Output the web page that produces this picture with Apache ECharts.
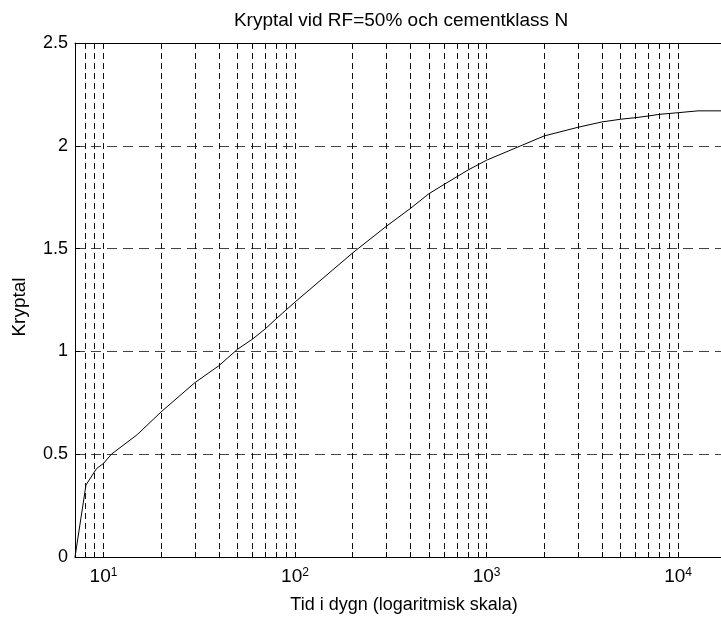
<!DOCTYPE html>
<html>
<head>
<meta charset="utf-8">
<title>Kryptal</title>
<script src="https://cdn.jsdelivr.net/npm/echarts@6/dist/echarts.min.js"></script>
<style>
  html, body { margin: 0; padding: 0; background: #fff; }
  #chart { width: 721px; height: 619px; }
</style>
</head>
<body>
<div id="chart"></div>
<script>
// tid i dygn och kryptal
var days = [7.1, 8.1, 9.2, 10, 11, 15, 20, 30, 40, 50, 60, 70, 80, 100, 200, 300, 400, 500, 600, 800, 1000, 2000, 3000, 4000, 5000, 6000, 7000, 8000, 10000, 12700, 18000];
var creep = [0, 0.35, 0.43, 0.455, 0.5, 0.595, 0.706, 0.848, 0.93, 1.01, 1.06, 1.11, 1.16, 1.24, 1.479, 1.609, 1.695, 1.767, 1.812, 1.882, 1.93, 2.048, 2.09, 2.116, 2.129, 2.137, 2.145, 2.153, 2.161, 2.17, 2.17];

// rutnät och etiketter
var gridDays = [8, 9, 10, 20, 30, 40, 50, 60, 70, 80, 90, 100, 200, 300, 400, 500, 600, 700, 800, 900, 1000, 2000, 3000, 4000, 5000, 6000, 7000, 8000, 9000, 10000];
var majorDays = [10, 100, 1000, 10000];
var yTicks = [0, 0.5, 1, 1.5, 2, 2.5];

var font = 'Liberation Sans, Arial, Helvetica, sans-serif';
var chart = echarts.init(document.getElementById('chart'));

var data = days.map(function (d, i) { return [d, creep[i]]; });

var option = {
  animation: false,
  backgroundColor: '#fff',
  grid: {
    left: 75, top: 43, bottom: 62, right: -6,
    containLabel: false,
    outerBoundsMode: 'none'
  },
  xAxis: [{
    type: 'log',
    position: 'bottom',
    min: 7.1,
    max: 18000,
    axisLine: { show: true, lineStyle: { color: '#000', width: 1 } },
    axisTick: { show: true, inside: true, length: 5, customValues: gridDays, lineStyle: { color: '#000' } },
    axisLabel: {
      customValues: majorDays,
      margin: 10,
      color: '#000',
      fontFamily: font,
      fontSize: 19,
      formatter: function (v) {
        return '{b|10}{sup|' + Math.round(Math.log10(v)) + '}';
      },
      rich: {
        b: { fontSize: 19, fontFamily: font, color: '#000', lineHeight: 19, verticalAlign: 'bottom' },
        sup: { fontSize: 12, fontFamily: font, color: '#000', lineHeight: 12, verticalAlign: 'top', padding: [0, 0, 13, 0] }
      }
    },
    splitLine: { show: true, lineStyle: { color: '#111', width: 1, type: [6, 4] } }
  }, {
    type: 'log',
    position: 'top',
    min: 7.1,
    max: 18000,
    axisLine: { show: true, lineStyle: { color: '#000', width: 1 } },
    axisTick: { show: true, inside: true, length: 5, customValues: gridDays, lineStyle: { color: '#000' } },
    axisLabel: { show: false },
    splitLine: { show: false }
  }],
  yAxis: {
    type: 'value',
    min: 0,
    max: 2.5,
    interval: 0.5,
    axisLine: { show: true, lineStyle: { color: '#000', width: 1 } },
    axisTick: { show: true, inside: true, length: 5, lineStyle: { color: '#000' } },
    axisLabel: {
      margin: 7,
      color: '#000',
      fontSize: 18,
      fontFamily: font,
      formatter: function (v) { return yTicks.indexOf(v) >= 0 ? String(v) : ''; }
    },
    splitLine: { show: true, lineStyle: { color: '#444', width: 1, type: [10, 6] } }
  },
  graphic: [{
    type: 'text',
    x: 401, y: 21,
    style: {
      text: 'Kryptal vid RF=50% och cementklass N',
      fill: '#000', font: '19px ' + font,
      align: 'center', verticalAlign: 'middle',
      textAlign: 'center', textVerticalAlign: 'middle'
    }
  }, {
    type: 'text',
    x: 404, y: 605,
    style: {
      text: 'Tid i dygn (logaritmisk skala)',
      fill: '#000', font: '18px ' + font,
      align: 'center', verticalAlign: 'middle',
      textAlign: 'center', textVerticalAlign: 'middle'
    }
  }, {
    type: 'text',
    x: 20, y: 307,
    rotation: Math.PI / 2,
    style: {
      text: 'Kryptal',
      fill: '#000', font: '19px ' + font,
      align: 'center', verticalAlign: 'middle',
      textAlign: 'center', textVerticalAlign: 'middle'
    }
  }],
  series: [{
    type: 'line',
    data: data,
    showSymbol: false,
    symbol: 'none',
    lineStyle: { color: '#000', width: 1 },
    clip: true
  }]
};

chart.setOption(option);
</script>
</body>
</html>
